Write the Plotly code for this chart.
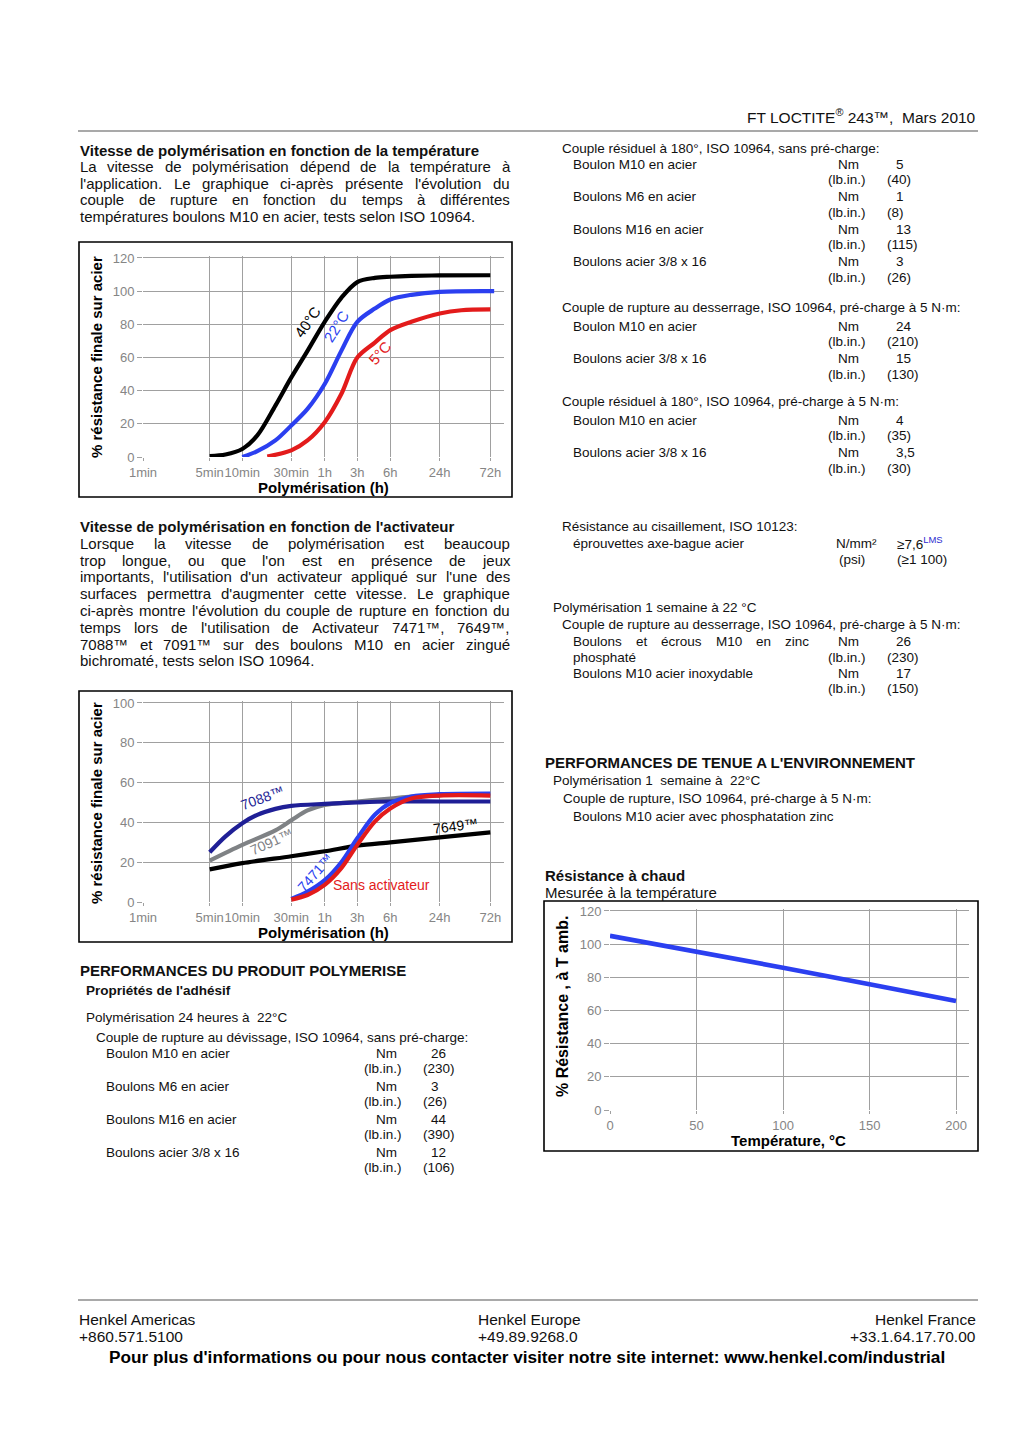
import numpy as np
import plotly.graph_objects as go

W, H = 1024, 1448
PAGE_MARGIN = 8  # the browser's default body margin around the figure
FONT = "Liberation Sans, Arial, Helvetica, sans-serif"
NARROW = "Liberation Sans Narrow, Arial Narrow, Liberation Sans, sans-serif"

# ---------------- data ----------------
TIME_TICK_MIN = [1, 5, 10, 30, 60, 180, 360, 1440, 4320]
TIME_TICK_LABELS = ["1min", "5min", "10min", "30min", "1h", "3h", "6h", "24h", "72h"]
TIME_TICK_POS = [0, 66.7, 99.3, 148.3, 181.7, 214.3, 247.3, 296.7, 347.3]
TIME_AXIS_MAX = 361

# Chart 1 : cure speed vs temperature
T40_TIME = [5, 7, 10, 14, 21, 30, 42, 60, 105, 180, 260, 360, 650, 1440, 4320]
T40_VAL = [0.6, 1.5, 4.8, 13, 31, 48, 64, 81.5, 96, 105.5, 108, 108.7, 109.2, 109.5, 109.6]
T22_TIME = [10, 14, 21, 30, 42, 60, 105, 180, 260, 360, 650, 1440, 4700]
T22_VAL = [0, 3.5, 10, 19, 29, 44, 64, 81.5, 89.5, 95, 97.8, 99.6, 100]
T5_TIME = [17.5, 30, 42, 60, 105, 180, 260, 360, 650, 1440, 2300, 4320]
T5_VAL = [0.3, 4, 10, 21, 38, 60, 69, 76.5, 81.5, 86.5, 88.5, 89]

# Chart 2 : cure speed vs activator
A7088_TIME = [5, 7, 10, 14, 21, 30, 60, 180, 360, 1440, 4320]
A7088_VAL = [25, 33, 39.6, 43.8, 46.8, 48.3, 49.3, 50, 50.5, 50.5, 50.5]
A7091_TIME = [5, 10, 21, 30, 42, 60, 180, 360, 650, 1440]
A7091_VAL = [20.8, 28.7, 36, 41, 46, 48.8, 50.5, 52, 53, 53.5]
A7649_TIME = [5, 10, 30, 60, 180, 360, 1440, 4320]
A7649_VAL = [16.4, 19.5, 23.0, 25.5, 28.3, 30.0, 32.5, 35]
A7471_TIME = [30, 42, 60, 105, 180, 260, 360, 650, 1440, 4320]
A7471_VAL = [1.5, 5.2, 11, 20, 32, 43.8, 49.7, 53, 54.2, 54.5]
NOACT_TIME = [30, 42, 60, 105, 180, 260, 360, 650, 1440, 4320]
NOACT_VAL = [1.2, 3.5, 8.6, 17, 28.7, 40.4, 47, 52, 53.5, 53.5]

# Chart 3 : hot strength
HOT_TEMP = [0, 50, 100, 150, 200]
HOT_VAL = [105, 95.5, 85.8, 75.8, 65.7]

Y1_TICKS = [0, 20, 40, 60, 80, 100, 120]
Y2_TICKS = [0, 20, 40, 60, 80, 100]
X3_TICKS = [0, 50, 100, 150, 200]

BLACK = "#000000"
BLUE = "#2b3ff0"
RED = "#e31b1b"
NAVY = "#1f1f96"
GREY = "#7f8285"

# ---------------- helpers ----------------
def px(x):
    return (x - PAGE_MARGIN) / W


def py(y):
    return 1 - (y - PAGE_MARGIN) / H


def time_to_axis(t):
    lt = np.log(np.asarray(t, float))
    lk = np.log(np.asarray(TIME_TICK_MIN, float))
    p = np.asarray(TIME_TICK_POS, float)
    out = np.interp(lt, lk, p)
    slope = (p[-1] - p[-2]) / (lk[-1] - lk[-2])
    hi = lt > lk[-1]
    out[hi] = p[-1] + (lt[hi] - lk[-1]) * slope
    return out


AW = {' ': 278, '!': 278, '"': 355, '%': 889, '&': 667, "'": 191, '(': 333, ')': 333,
      ',': 278, '-': 333, '.': 278, '/': 278, ':': 278, ';': 278, '°': 400, '™': 1000,
      '≥': 549, '·': 278, '²': 333, '®': 737}
for c in "0123456789":
    AW[c] = 556
for c, w in zip("ABCDEFGHIJKLMNOPQRSTUVWXYZ",
                [667, 667, 722, 722, 667, 611, 778, 722, 278, 500, 667, 556, 833, 722, 778,
                 667, 778, 722, 667, 611, 722, 667, 944, 667, 667, 611]):
    AW[c] = w
for c, w in zip("abcdefghijklmnopqrstuvwxyz",
                [556, 556, 500, 556, 556, 278, 556, 556, 222, 222, 500, 222, 833, 556, 556,
                 556, 556, 333, 500, 278, 556, 500, 722, 500, 500, 500]):
    AW[c] = w
for c in "éèêàâù":
    AW[c] = 556
AW['ç'] = 500


def text_width(s, size):
    return sum(AW.get(c, 556) for c in s) * size / 1000.0


annotations = []


def text(x, y, s, size=13, bold=False, anchor="left", color="#111111", angle=0, family=FONT):
    annotations.append(dict(
        x=px(x), y=py(y), xref="paper", yref="paper",
        text=("<b>%s</b>" % s) if bold else s, showarrow=False,
        xanchor=anchor, yanchor="middle", textangle=angle,
        font=dict(size=size, color=color, family=family), borderpad=0))


def justified(x0, x1, y, line, size):
    words = line.split()
    widths = [text_width(w, size) for w in words]
    gap = (x1 - x0 - sum(widths)) / max(len(words) - 1, 1)
    x = x0
    for w, wd in zip(words, widths):
        text(x, y, w, size)
        x += wd + gap


def paragraph(x0, x1, y0, dy, lines, size):
    for i, ln in enumerate(lines):
        y = y0 + i * dy
        if i < len(lines) - 1:
            justified(x0, x1, y, ln, size)
        else:
            text(x0, y, ln, size)


# ---------------- figure ----------------
fig = go.Figure()

def add_line(xs, ys, color, xa, ya, width=4.2):
    fig.add_trace(go.Scatter(x=xs, y=ys, mode="lines", xaxis=xa, yaxis=ya,
                             line=dict(color=color, width=width, shape="spline", smoothing=0.9),
                             hoverinfo="skip", showlegend=False))

# chart 1
add_line(time_to_axis(T40_TIME), T40_VAL, BLACK, "x", "y")
add_line(time_to_axis(T22_TIME), T22_VAL, BLUE, "x", "y")
add_line(time_to_axis(T5_TIME), T5_VAL, RED, "x", "y")
# chart 2
add_line(time_to_axis(A7649_TIME), A7649_VAL, BLACK, "x2", "y2")
add_line(time_to_axis(A7091_TIME), A7091_VAL, GREY, "x2", "y2")
add_line(time_to_axis(A7088_TIME), A7088_VAL, NAVY, "x2", "y2")
add_line(time_to_axis(A7471_TIME), A7471_VAL, BLUE, "x2", "y2")
add_line(time_to_axis(NOACT_TIME), NOACT_VAL, RED, "x2", "y2")
# chart 3
fig.add_trace(go.Scatter(x=HOT_TEMP, y=HOT_VAL, mode="lines", xaxis="x3", yaxis="y3",
                         line=dict(color=BLUE, width=4.6), hoverinfo="skip", showlegend=False))

GRID = "#a0a0a0"
TICKF = dict(size=13, color="#858585", family=FONT)

def xaxis(dom, rng, tickvals, ticktext, anchor):
    return dict(domain=[px(dom[0]), px(dom[1])], range=rng, tickmode="array",
                tickvals=tickvals, ticktext=ticktext, showgrid=True, gridcolor=GRID,
                gridwidth=1, zeroline=False, showline=False, ticks="outside", ticklen=3,
                tickcolor=GRID, tickfont=TICKF, tickangle=0, anchor=anchor, fixedrange=True,
                automargin=False)

def yaxis(dom, rng, tickvals, anchor):
    return dict(domain=[py(dom[0]), py(dom[1])], range=rng, tickmode="array",
                tickvals=tickvals, ticktext=[str(v) for v in tickvals], showgrid=True,
                gridcolor=GRID, gridwidth=1, zeroline=False, showline=False,
                ticks="outside", ticklen=5, tickcolor=GRID, tickfont=TICKF,
                anchor=anchor, fixedrange=True, automargin=False)

layout = dict(
    width=W, height=H, autosize=False,
    margin=dict(l=0, r=0, t=0, b=0, pad=0, autoexpand=False),
    paper_bgcolor="white", plot_bgcolor="white",
    showlegend=False, hovermode=False,
    xaxis=xaxis((143, 504), [0, TIME_AXIS_MAX], TIME_TICK_POS, TIME_TICK_LABELS, "y"),
    yaxis=yaxis((457, 256), [0, 121.2], Y1_TICKS, "x"),
    xaxis2=xaxis((143, 504), [0, TIME_AXIS_MAX], TIME_TICK_POS, TIME_TICK_LABELS, "y2"),
    yaxis2=yaxis((902, 701), [0, 101], Y2_TICKS, "x2"),
    xaxis3=xaxis((610, 969), [0, 207.5], X3_TICKS, [str(v) for v in X3_TICKS], "y3"),
    yaxis3=yaxis((1110, 909), [0, 121.2], Y1_TICKS, "x3"),
)

shapes = []
def rect(x0, y0, x1, y1, color="#000000", w=1.6):
    shapes.append(dict(type="rect", xref="paper", yref="paper", x0=px(x0), x1=px(x1),
                       y0=py(y1), y1=py(y0), line=dict(color=color, width=w)))

def hline(x0, x1, y, color="#8c8c8c", w=1.5):
    shapes.append(dict(type="line", xref="paper", yref="paper", x0=px(x0), x1=px(x1),
                       y0=py(y), y1=py(y), line=dict(color=color, width=w)))

rect(79, 242, 512, 497)
rect(79, 691, 512, 942)
rect(544, 901, 978, 1151)
hline(78, 978, 131)
hline(78, 978, 1300)

# ---------------- text ----------------
text(977, 116, "FT LOCTITE<sup>®</sup> 243™,  Mars 2010", size=15.5, anchor="right")

# left column
text(79, 150, "Vitesse de polymérisation en fonction de la température", size=15, bold=True)
paragraph(79, 509, 166.5, 16.6, [
    "La vitesse de polymérisation dépend de la température à",
    "l'application. Le graphique ci-après présente l'évolution du",
    "couple de rupture en fonction du temps à différentes",
    "températures boulons M10 en acier, tests selon ISO 10964."], 15)

text(79, 527, "Vitesse de polymérisation en fonction de l'activateur", size=15, bold=True)
paragraph(79, 509, 543.5, 16.75, [
    "Lorsque la vitesse de polymérisation est beaucoup",
    "trop longue, ou que l'on est en présence de jeux",
    "importants, l'utilisation d'un activateur appliqué sur l'une des",
    "surfaces permettra d'augmenter cette vitesse. Le graphique",
    "ci-après montre l'évolution du couple de rupture en fonction du",
    "temps lors de l'utilisation de Activateur 7471™, 7649™,",
    "7088™ et 7091™ sur des boulons M10 en acier zingué",
    "bichromaté, tests selon ISO 10964."], 15)

# chart axis titles
text(96, 357, "% résistance finale sur acier", size=15, bold=True, anchor="center", angle=-90, color="#000")
text(323, 487.5, "Polymérisation (h)", size=15, bold=True, anchor="center", color="#000")
text(96, 803, "% résistance finale sur acier", size=15, bold=True, anchor="center", angle=-90, color="#000")
text(323, 932.5, "Polymérisation (h)", size=15, bold=True, anchor="center", color="#000")
text(562, 1007, "% Résistance , à T amb.", size=16, bold=True, anchor="center", angle=-90, color="#000")
text(788, 1140, "Température, °C", size=15, bold=True, anchor="center", color="#000")

# curve labels chart 1
text(308, 322, "40°C", size=15, anchor="center", angle=-55, color=BLACK)
text(336, 326, "22°C", size=15, anchor="center", angle=-58, color=BLUE)
text(379, 353, "5°C", size=15, anchor="center", angle=-48, color=RED)
# curve labels chart 2
text(262, 798, "7088™", size=14, anchor="center", angle=-20, color=NAVY)
text(271, 842, "7091™", size=14, anchor="center", angle=-24, color=GREY)
text(455, 826, "7649™", size=14, anchor="center", angle=-7, color=BLACK)
text(315, 873, "7471™", size=14, anchor="center", angle=-48, color=BLUE)
text(381, 885, "Sans activateur", size=14, anchor="center", color=RED)

# left table
text(79, 970, "PERFORMANCES DU PRODUIT POLYMERISE", size=15, bold=True)
text(85, 990, "Propriétés de l'adhésif", size=13.5, bold=True)
text(85, 1017, "Polymérisation 24 heures à  22°C", size=13.5)
text(95, 1037, "Couple de rupture au dévissage, ISO 10964, sans pré-charge:", size=13.5)
LEFT_ROWS = [("Boulon M10 en acier", "26", "(230)"), ("Boulons M6 en acier", "3", "(26)"),
             ("Boulons M16 en acier", "44", "(390)"), ("Boulons acier 3/8 x 16", "12", "(106)")]
for i, (lab, nm, lb) in enumerate(LEFT_ROWS):
    y = 1053 + i * 33
    text(105, y, lab, size=13.5)
    text(386, y, "Nm", size=13.5, anchor="center")
    text(430, y, nm, size=13.5)
    text(383, y + 15.5, "(lb.in.)", size=13.5, anchor="center")
    text(422, y + 15.5, lb, size=13.5)

# right column
def rows(y0, items):
    for i, (lab, nm, lb) in enumerate(items):
        y = y0 + i * 32.6
        text(572, y, lab, size=13.5)
        text(848, y, "Nm", size=13.5, anchor="center")
        text(895, y, nm, size=13.5)
        text(847, y + 15.7, "(lb.in.)", size=13.5, anchor="center")
        text(886, y + 15.7, lb, size=13.5)

text(561, 149, "Couple résiduel à 180°, ISO 10964, sans pré-charge:", size=13.5)
rows(164, [("Boulon M10 en acier", "5", "(40)"), ("Boulons M6 en acier", "1", "(8)"),
           ("Boulons M16 en acier", "13", "(115)"), ("Boulons acier 3/8 x 16", "3", "(26)")])
text(561, 308, "Couple de rupture au desserrage, ISO 10964, pré-charge à 5 N·m:", size=13.5)
rows(326, [("Boulon M10 en acier", "24", "(210)"), ("Boulons acier 3/8 x 16", "15", "(130)")])
text(561, 402, "Couple résiduel à 180°, ISO 10964, pré-charge à 5 N·m:", size=13.5)
rows(420, [("Boulon M10 en acier", "4", "(35)"), ("Boulons acier 3/8 x 16", "3,5", "(30)")])

text(561, 526, "Résistance au cisaillement, ISO 10123:", size=13.5)
text(572, 543, "éprouvettes axe-bague acier", size=13.5)
text(856, 543, "N/mm²", size=13.5, anchor="center")
text(896, 543, "≥7,6<sup><span style='color:#2b2bd0'>LMS</span></sup>", size=13.5)
text(852, 559, "(psi)", size=13.5, anchor="center")
text(896, 559, "(≥1 100)", size=13.5)

text(552, 607, "Polymérisation 1 semaine à 22 °C", size=13.5)
text(561, 624, "Couple de rupture au desserrage, ISO 10964, pré-charge à 5 N·m:", size=13.5)
justified(572, 808, 641, "Boulons et écrous M10 en zinc", 13.5)
text(848, 641, "Nm", size=13.5, anchor="center")
text(895, 641, "26", size=13.5)
text(572, 657, "phosphaté", size=13.5)
text(847, 657, "(lb.in.)", size=13.5, anchor="center")
text(886, 657, "(230)", size=13.5)
text(572, 673, "Boulons M10 acier inoxydable", size=13.5)
text(848, 673, "Nm", size=13.5, anchor="center")
text(895, 673, "17", size=13.5)
text(847, 689, "(lb.in.)", size=13.5, anchor="center")
text(886, 689, "(150)", size=13.5)

text(544, 762, "PERFORMANCES DE TENUE A L'ENVIRONNEMENT", size=15, bold=True)
text(552, 780, "Polymérisation 1  semaine à  22°C", size=13.5)
text(562, 798, "Couple de rupture, ISO 10964, pré-charge à 5 N·m:", size=13.5)
text(572, 816, "Boulons M10 acier avec phosphatation zinc", size=13.5)

text(544, 875, "Résistance à chaud", size=15, bold=True)
text(544, 892, "Mesurée à la température", size=15)

# footer
text(78, 1319, "Henkel Americas", size=15.5, family=NARROW)
text(78, 1336, "+860.571.5100", size=15.5, family=NARROW)
text(477, 1319, "Henkel Europe", size=15.5, family=NARROW)
text(477, 1336, "+49.89.9268.0", size=15.5, family=NARROW)
text(977, 1319, "Henkel France", size=15.5, anchor="right", family=NARROW)
text(977, 1336, "+33.1.64.17.70.00", size=15.5, anchor="right", family=NARROW)
text(527, 1357, "Pour plus d'informations ou pour nous contacter visiter notre site internet: www.henkel.com/industrial",
     size=17.2, bold=True, anchor="center", family=NARROW, color="#000")

layout["annotations"] = annotations
layout["shapes"] = shapes
fig.update_layout(**layout)

fig.write_html("out.html", config={"displayModeBar": False, "staticPlot": True})
